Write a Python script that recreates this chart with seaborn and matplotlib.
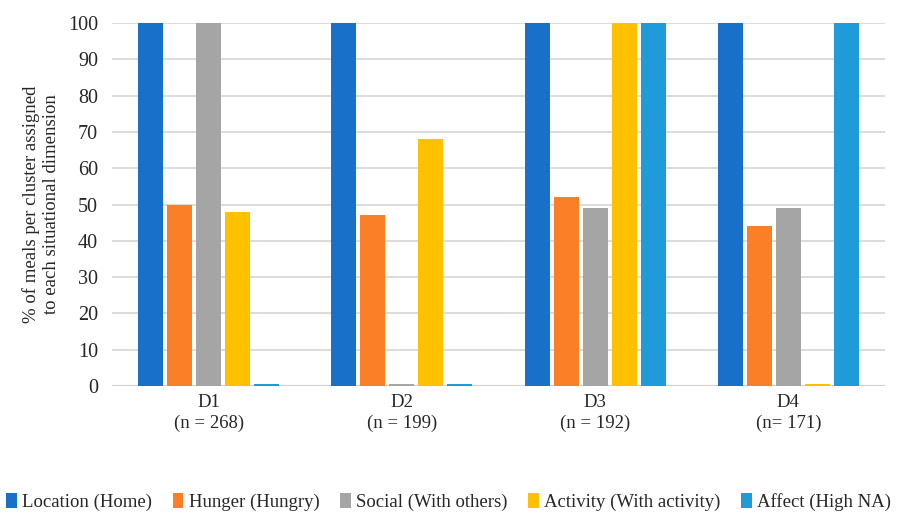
import matplotlib
matplotlib.use("Agg")
import matplotlib.pyplot as plt
import seaborn as sns
import pandas as pd

clusters = ["D1\n(n = 268)", "D2\n(n = 199)", "D3\n(n = 192)", "D4\n(n= 171)"]
dimensions = ["Location (Home)", "Hunger (Hungry)", "Social (With others)",
              "Activity (With activity)", "Affect (High NA)"]
location = [100, 100, 100, 100]
hunger = [50, 47, 52, 44]
social = [100, 0.6, 49, 49]
activity = [48, 68, 100, 0.6]
affect = [0.6, 0.6, 100, 100]
colors = ["#1870C8", "#FA7F26", "#A5A5A5", "#FFC000", "#1E9BD8"]

series = [location, hunger, social, activity, affect]
rows = []
for dim, vals in zip(dimensions, series):
    for c, v in zip(clusters, vals):
        rows.append({"cluster": c, "dimension": dim, "value": v})
df = pd.DataFrame(rows)

sns.set_theme(style="white")
plt.rcParams['font.family'] = ['Liberation Serif', 'DejaVu Serif']

fig = plt.figure(figsize=(9.03, 5.13), dpi=100)
ax = fig.add_axes([0.124, 0.2476, 0.856, 0.7074])
sns.barplot(data=df, x="cluster", y="value", hue="dimension", hue_order=dimensions,
            palette=colors, width=0.75, gap=0.14, ax=ax, legend=True, saturation=1,
            zorder=3, linewidth=0)

ax.set_ylim(0, 100)
ax.set_yticks(range(0, 101, 10))
ax.set_xlim(-0.5, 3.5)
ax.yaxis.grid(True, color="#D9D9D9", linewidth=1.3, zorder=0)
ax.set_axisbelow(True)
for s in ax.spines.values():
    s.set_visible(False)
ax.axhline(0, color="#D0D0D0", linewidth=1.5, zorder=1)
ax.tick_params(axis="y", length=0, labelsize=14.5, pad=10)
ax.tick_params(axis="x", length=0, labelsize=13.5, pad=6)
for t in ax.get_xticklabels():
    t.set_linespacing(1.25)
ax.set_xlabel("")
ax.set_ylabel("% of meals per cluster assigned\nto each situational dimension", fontsize=13.5, labelpad=6, linespacing=1.2)

handles, labels = ax.get_legend_handles_labels()
ax.legend(handles, labels, loc="center", bbox_to_anchor=(0.497, 0.022), bbox_transform=fig.transFigure,
          ncol=5, frameon=False, fontsize=13.5, handlelength=0.55, handleheight=0.9,
          handletextpad=0.3, columnspacing=1.1)

fig.savefig("out.png", dpi=100)
